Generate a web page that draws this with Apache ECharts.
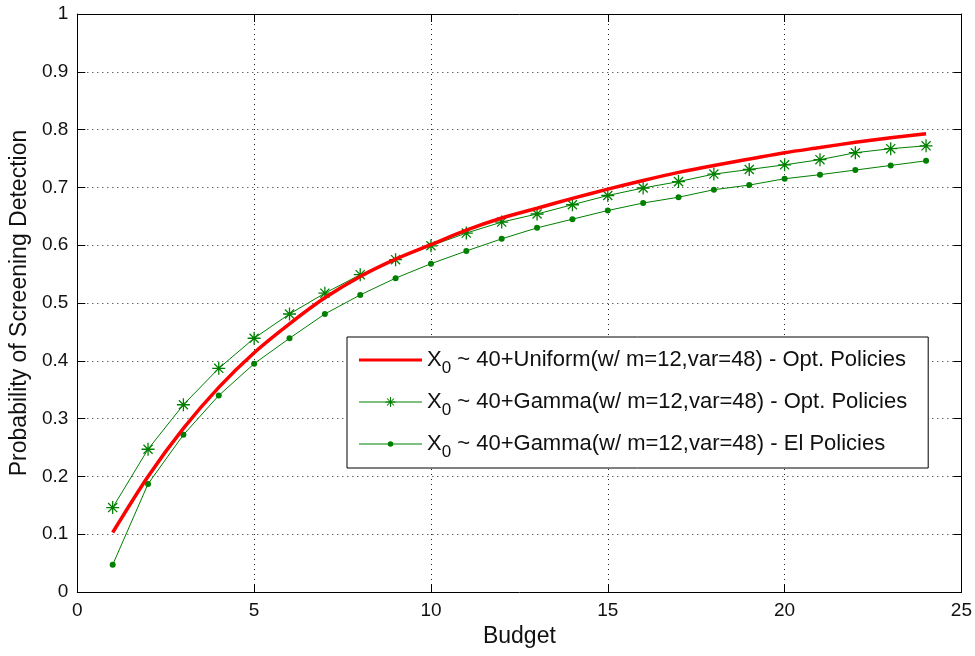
<!DOCTYPE html>
<html>
<head>
<meta charset="utf-8">
<script src="https://cdn.jsdelivr.net/npm/echarts@6/dist/echarts.min.js"></script>
<style>html,body{margin:0;padding:0;background:#fff}#c{width:975px;height:656px}</style>
</head>
<body>
<div id="c"></div>
<script>
const budget = [1,2,3,4,5,6,7,8,9,10,11,12,13,14,15,16,17,18,19,20,21,22,23,24];
const uniformOpt = [0.103,0.200,0.283,0.354,0.414,0.464,0.509,0.546,0.576,0.601,0.626,0.647,0.664,0.681,0.697,0.712,0.726,0.738,0.749,0.760,0.769,0.778,0.786,0.793];
const gammaOpt = [0.146,0.247,0.324,0.387,0.439,0.481,0.517,0.549,0.575,0.599,0.621,0.640,0.654,0.670,0.686,0.699,0.710,0.723,0.731,0.739,0.748,0.760,0.767,0.772];
const gammaEI = [0.047,0.187,0.272,0.340,0.395,0.439,0.481,0.514,0.543,0.568,0.590,0.611,0.630,0.645,0.660,0.673,0.683,0.696,0.704,0.715,0.722,0.730,0.738,0.746];
const seriesNames = [
  'X0 ~ 40+Uniform(w/ m=12,var=48) - Opt. Policies',
  'X0 ~ 40+Gamma(w/ m=12,var=48) - Opt. Policies',
  'X0 ~ 40+Gamma(w/ m=12,var=48) - EI Policies'
];
const legendLabels = [
  'X{sub|0} ~ 40+Uniform(w/ m=12,var=48) - Opt. Policies',
  'X{sub|0} ~ 40+Gamma(w/ m=12,var=48) - Opt. Policies',
  'X{sub|0} ~ 40+Gamma(w/ m=12,var=48) - El Policies'
];
const xTicks = {min: 0, max: 25, interval: 5};
const yTicks = {min: 0, max: 1, interval: 0.1};

const star = 'path://M9 0L11 0L11 20L9 20ZM0 9L20 9L20 11L0 11ZM3.7 2.3L17.7 16.3L16.3 17.7L2.3 3.7ZM17.7 3.7L3.7 17.7L2.3 16.3L16.3 2.3Z';
// legend icons (line + marker glyphs)
const iconRed = 'path://M0 0L63 0L63 3L0 3Z';
const iconStar = 'path://M0 4.5L63 4.5L63 5.5L0 5.5ZM31 0L32 0L32 10L31 10ZM26.5 4.3L36.5 4.3L36.5 5.7L26.5 5.7ZM28.35 1.15L35.35 8.15L34.65 8.85L27.65 1.85ZM35.35 1.85L28.35 8.85L27.65 8.15L34.65 1.15Z';
const iconDot = 'path://M0 4.5L63 4.5L63 5.5L0 5.5ZM34.3 5A2.8 2.8 0 1 1 28.7 5A2.8 2.8 0 1 1 34.3 5Z';
const legendIcons = [iconRed, iconStar, iconDot];

const FONT = 'Liberation Sans, Arial, sans-serif';
const green = '#008000';

const chart = echarts.init(document.getElementById('c'), null, {renderer: 'canvas'});
const gridLine = {show: true, lineStyle: {color: '#222', type: [1, 4], width: 1}};
const tick = {show: true, inside: true, length: 8, lineStyle: {color: '#000'}};
const axLine = {show: true, onZero: false, lineStyle: {color: '#000', width: 1}};
const lbl = {color: '#111', fontSize: 19, fontFamily: FONT};

const option = {
  animation: false,
  backgroundColor: '#fff',
  grid: {left: 76, right: 13, top: 14, bottom: 64},
  xAxis: [
    {type: 'value', min: xTicks.min, max: xTicks.max, interval: xTicks.interval, position: 'bottom',
     axisLine: axLine, axisTick: tick, splitLine: gridLine,
     axisLabel: Object.assign({margin: 9}, lbl),
     name: 'Budget', nameLocation: 'middle', nameGap: 33,
     nameTextStyle: {color: '#111', fontSize: 23, fontFamily: FONT}},
    {type: 'value', min: xTicks.min, max: xTicks.max, interval: xTicks.interval, position: 'top',
     axisLine: axLine, axisTick: tick, splitLine: {show: false}, axisLabel: {show: false}}
  ],
  yAxis: [
    {type: 'value', min: yTicks.min, max: yTicks.max, interval: yTicks.interval, position: 'left',
     axisLine: axLine, axisTick: tick, splitLine: gridLine,
     axisLabel: Object.assign({margin: 9}, lbl),
     name: 'Probability of Screening Detection', nameLocation: 'middle', nameGap: 45,
     nameTextStyle: {color: '#111', fontSize: 23, fontFamily: FONT}},
    {type: 'value', min: yTicks.min, max: yTicks.max, interval: yTicks.interval, position: 'right',
     axisLine: axLine, axisTick: tick, splitLine: {show: false}, axisLabel: {show: false}}
  ],
  legend: {
    orient: 'vertical', left: 347, top: 337,
    backgroundColor: '#fff', borderColor: '#000', borderWidth: 1, borderRadius: 0,
    padding: [6, 21, 7, 12],
    itemWidth: 63, itemHeight: 14, itemGap: 8,
    symbolKeepAspect: true,
    data: seriesNames.map((n, i) => ({name: n, icon: legendIcons[i]})),
    formatter: function (name) { return legendLabels[seriesNames.indexOf(name)]; },
    textStyle: {color: '#111', fontSize: 22, fontFamily: FONT, lineHeight: 34,
      rich: {sub: {fontSize: 17, fontFamily: FONT, color: '#111', lineHeight: 14, verticalAlign: 'bottom'}}}
  },
  series: [
    {name: seriesNames[0], type: 'line', data: budget.map((b, i) => [b, uniformOpt[i]]),
     smooth: 0.3, showSymbol: false, symbol: 'none', lineStyle: {color: '#ff0000', width: 3.5},
     itemStyle: {color: '#ff0000'}, z: 4},
    {name: seriesNames[1], type: 'line', data: budget.map((b, i) => [b, gammaOpt[i]]),
     symbol: star, symbolSize: 13, lineStyle: {color: green, width: 1},
     itemStyle: {color: green}, z: 3},
    {name: seriesNames[2], type: 'line', data: budget.map((b, i) => [b, gammaEI[i]]),
     symbol: 'circle', symbolSize: 6, lineStyle: {color: green, width: 1},
     itemStyle: {color: green}, z: 3}
  ]
};
chart.setOption(option);
</script>
</body>
</html>
